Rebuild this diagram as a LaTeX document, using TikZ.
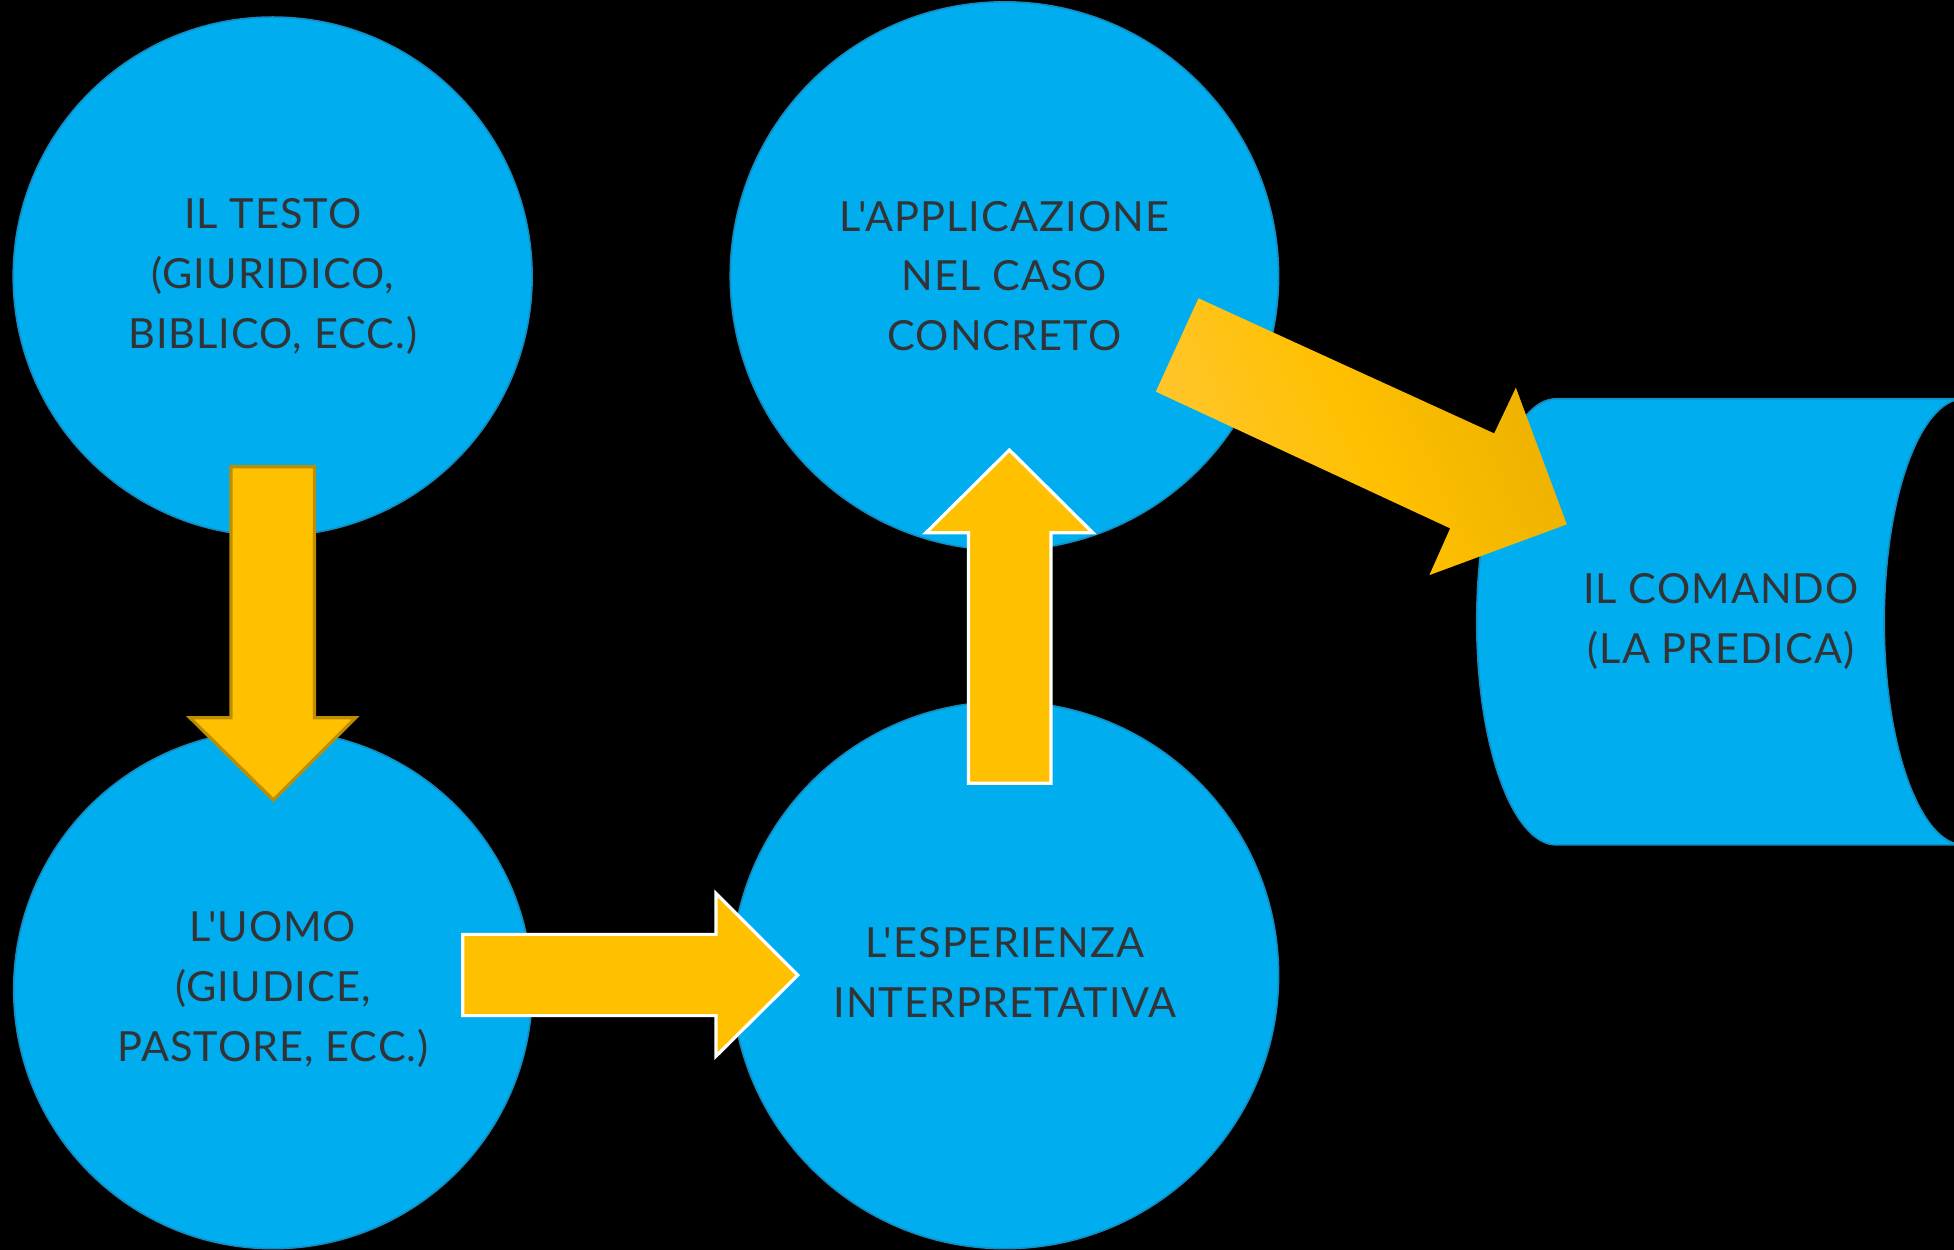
\documentclass[tikz,border=0pt]{standalone}
\usepackage{fontspec}
\setmainfont{Lato}[Ligatures=TeXOff, LetterSpace=2.5]
\definecolor{bgblack}{RGB}{0,0,0}
\definecolor{blobfill}{RGB}{0,174,239}
\definecolor{blobline}{RGB}{20,140,192}
\definecolor{arrowyellow}{RGB}{255,192,0}
\definecolor{arrowedge}{RGB}{190,142,0}
\definecolor{gradlight}{RGB}{255,198,48}
\definecolor{graddark}{RGB}{236,176,0}
\definecolor{labelgray}{RGB}{51,51,54}
\tikzset{
  blob/.style={circle, fill=blobfill, draw=blobline, line width=1.3pt, inner sep=0pt},
  blobtext/.style={align=center, text=labelgray, font=\fontsize{33.3}{48}\selectfont, inner sep=0pt},
  blockarrow/.style={fill=arrowyellow, line width=2.6pt, line join=miter},
}
\begin{document}
\begin{tikzpicture}[x=1pt,y=1pt]
  \fill[bgblack] (0,0) rectangle (1568,1003);
  \useasboundingbox (0,0) rectangle (1568,1003);
  % circles
  \node[blob, minimum size=416.4pt] (testo) at (218.8,781.1) {};
  \node[blob, minimum size=416pt] (uomo) at (219,209) {};
  \node[blob, minimum size=440pt] (appl) at (806,781.5) {};
  \node[blob, minimum size=439pt] (esp) at (806.5,220.5) {};
  % cylinder
  \begin{scope}
    \clip (0,0) rectangle (1568,1003);
    \draw[fill=blobfill, draw=blobline, line width=1.3pt]
      (1249,683) -- (1576,683)
      arc[start angle=90, end angle=270, x radius=64, y radius=179]
      -- (1249,325)
      arc[start angle=270, end angle=90, x radius=64, y radius=179]
      -- cycle;
  \end{scope}
  \coordinate (cyl) at (1381,504);
  % labels
  \node[blobtext] (testolbl) at (testo.center) {IL TESTO\\(GIURIDICO,\\BIBLICO, ECC.)};
  \node[blobtext] (uomolbl) at (uomo.center) {L'UOMO\\(GIUDICE,\\PASTORE, ECC.)};
  \node[blobtext] (appllbl) at (appl.center) {L'APPLICAZIONE\\NEL CASO\\CONCRETO};
  \node[blobtext] (esplbl) at (806.5,222.5) {L'ESPERIENZA\\INTERPRETATIVA};
  \node[blobtext] (cyllbl) at (cyl) {IL COMANDO\\(LA PREDICA)};
  % block arrows
  \draw[blockarrow, draw=arrowedge]
    (185.4,628.5) -- (252.3,628.5) -- (252.3,427) -- (285.4,427) -- (219.4,361)
    -- (152.5,427) -- (185.4,427) -- cycle;
  \draw[blockarrow, draw=white]
    (371.3,253.2) -- (574.6,253.2) -- (574.6,286.1) -- (640.2,220.5)
    -- (574.6,155.5) -- (574.6,188) -- (371.3,188) -- cycle;
  \draw[blockarrow, draw=white]
    (777.1,374.4) -- (777.1,575.5) -- (743.1,575.5) -- (810,641.9)
    -- (876.9,575.5) -- (843.4,575.5) -- (843.4,374.4) -- cycle;
  \shade[left color=gradlight, right color=graddark, middle color=arrowyellow, shading angle=115]
    (961.7,763.6) -- (1199,655.2) -- (1216.4,691.9) -- (1257.3,582.2)
    -- (1147,541.5) -- (1163.7,579) -- (927.5,688.7) -- cycle;
\end{tikzpicture}
\end{document}
